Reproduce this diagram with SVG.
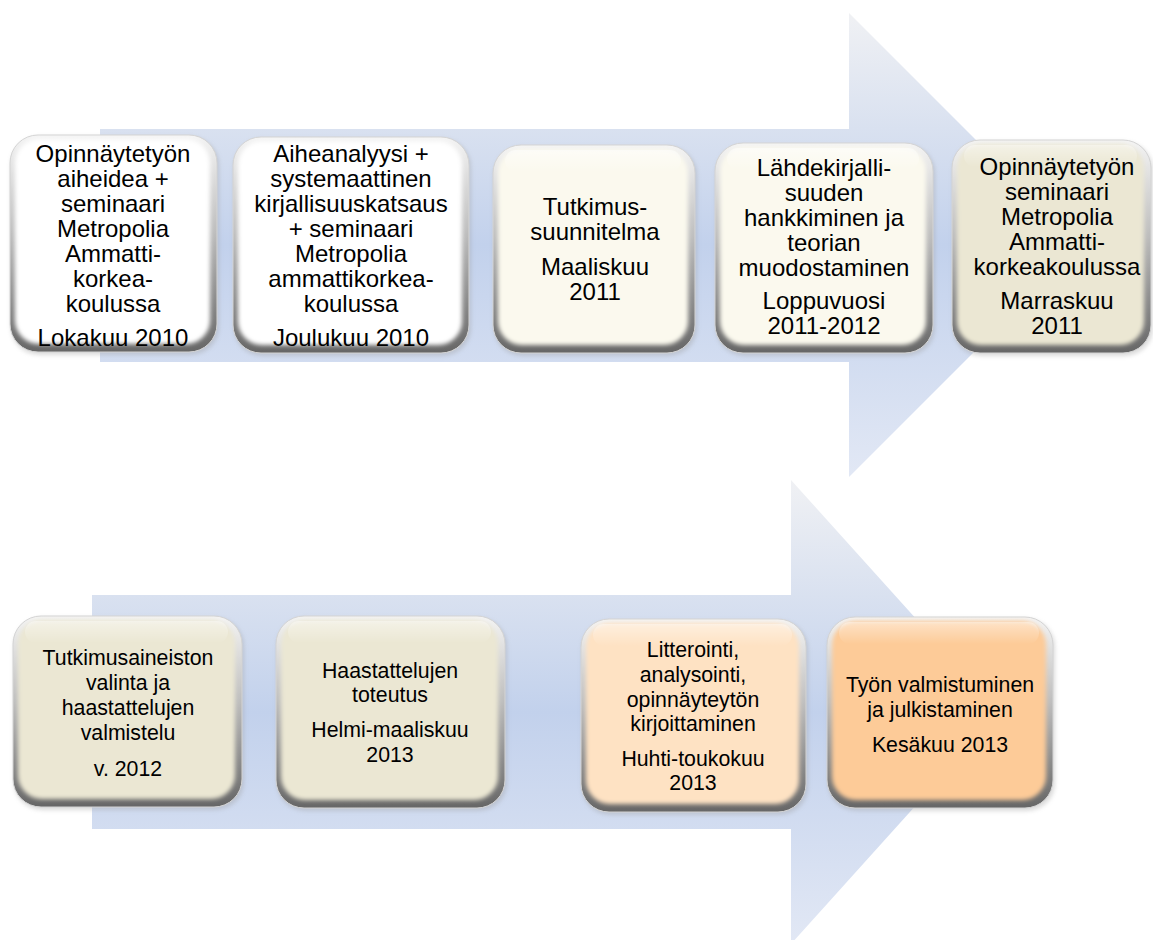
<svg xmlns="http://www.w3.org/2000/svg" width="1153" height="940" viewBox="0 0 1153 940">
<defs>
<linearGradient id="ag1" gradientUnits="userSpaceOnUse" x1="0" y1="13" x2="0" y2="477">
<stop offset="0" stop-color="#f0f1f4"/><stop offset="0.5" stop-color="#c2d1ec"/><stop offset="1" stop-color="#e2e8f5"/>
</linearGradient>
<linearGradient id="ag2" gradientUnits="userSpaceOnUse" x1="0" y1="480" x2="0" y2="944">
<stop offset="0" stop-color="#f0f1f4"/><stop offset="0.5" stop-color="#c2d1ec"/><stop offset="1" stop-color="#e2e8f5"/>
</linearGradient>
<linearGradient id="rim" x1="0" y1="0" x2="0" y2="1">
<stop offset="0" stop-color="#f4f4f4"/><stop offset="0.45" stop-color="#bdbdbd"/><stop offset="1" stop-color="#666666"/>
</linearGradient>
<linearGradient id="gloss" x1="0" y1="0" x2="0" y2="1">
<stop offset="0" stop-color="#ffffff" stop-opacity="0.9"/><stop offset="1" stop-color="#ffffff" stop-opacity="0"/>
</linearGradient>
<filter id="soft" x="-5%" y="-5%" width="110%" height="110%"><feGaussianBlur stdDeviation="2.2"/></filter>
<filter id="shadow" x="-10%" y="-10%" width="120%" height="120%"><feGaussianBlur stdDeviation="2"/></filter>
</defs>
<style>
text{font-family:"Liberation Sans",Arial,sans-serif;font-size:24px;fill:#000;text-anchor:middle}
text.s{font-size:21.3px}
.rim{fill:url(#rim);stroke:#d4d4d4;stroke-width:1}
.sh{fill:#9a9a9a;opacity:0.35;filter:url(#shadow)}
.in{filter:url(#soft)}
.gl{fill:url(#gloss)}
.white{fill:#ffffff}
.cream{fill:#fbf9ee}
.beige{fill:#ebe7d3}
.peach{fill:#fee2c3}
.orange{fill:#fdcb98}
</style>
<g id="connectors">
<polygon points="100,129 849,129 849,13 1081,245 849,477 849,362 100,362" fill="url(#ag1)"/>
<polygon points="92,595 791,595 791,480 1000,712 791,944 791,829 92,829" fill="url(#ag2)"/>
</g>
<g id="n1">
<rect class="sh" x="11" y="137" width="208" height="218" rx="28"/>
<rect class="rim" x="10" y="135" width="207" height="217" rx="28"/>
<rect class="in white" x="15" y="139" width="195" height="205" rx="24"/>
<text><tspan x="113" y="162">Opinnäytetyön</tspan><tspan x="113" y="187">aiheidea +</tspan><tspan x="113" y="212">seminaari</tspan><tspan x="113" y="237">Metropolia</tspan><tspan x="113" y="262">Ammatti-</tspan><tspan x="113" y="287">korkea-</tspan><tspan x="113" y="312">koulussa</tspan><tspan x="113" y="346">Lokakuu 2010</tspan></text>
</g>
<g id="n2">
<rect class="sh" x="234" y="139" width="237" height="217" rx="28"/>
<rect class="rim" x="233" y="137" width="236" height="216" rx="28"/>
<rect class="in white" x="238" y="141" width="224" height="204" rx="24"/>
<text><tspan x="351" y="162">Aiheanalyysi +</tspan><tspan x="351" y="187">systemaattinen</tspan><tspan x="351" y="212">kirjallisuuskatsaus</tspan><tspan x="351" y="237">+ seminaari</tspan><tspan x="351" y="262">Metropolia</tspan><tspan x="351" y="287">ammattikorkea-</tspan><tspan x="351" y="312">koulussa</tspan><tspan x="351" y="346">Joulukuu 2010</tspan></text>
</g>
<g id="n3">
<rect class="sh" x="494" y="147" width="203" height="209" rx="28"/>
<rect class="rim" x="493" y="145" width="202" height="208" rx="28"/>
<rect class="in cream" x="498" y="149" width="190" height="196" rx="24"/>
<rect class="gl" x="505" y="150" width="176" height="22" rx="11" opacity="0.6"/>
<text><tspan x="595" y="215">Tutkimus-</tspan><tspan x="595" y="240">suunnitelma</tspan><tspan x="595" y="275">Maaliskuu</tspan><tspan x="595" y="300">2011</tspan></text>
</g>
<g id="n4">
<rect class="sh" x="716" y="145" width="219" height="211" rx="28"/>
<rect class="rim" x="715" y="143" width="218" height="210" rx="28"/>
<rect class="in cream" x="720" y="147" width="206" height="198" rx="24"/>
<rect class="gl" x="727" y="148" width="192" height="22" rx="11" opacity="0.6"/>
<text><tspan x="824" y="176">Lähdekirjalli-</tspan><tspan x="824" y="201">suuden</tspan><tspan x="824" y="226">hankkiminen ja</tspan><tspan x="824" y="251">teorian</tspan><tspan x="824" y="276">muodostaminen</tspan><tspan x="824" y="309">Loppuvuosi</tspan><tspan x="824" y="334">2011-2012</tspan></text>
</g>
<g id="n5">
<rect class="sh" x="953" y="142" width="200" height="214" rx="28"/>
<rect class="rim" x="952" y="140" width="199" height="213" rx="28"/>
<rect class="in beige" x="957" y="144" width="187" height="201" rx="24"/>
<rect class="gl" x="964" y="145" width="173" height="22" rx="11" opacity="0.5"/>
<text><tspan x="1057" y="175">Opinnäytetyön</tspan><tspan x="1057" y="200">seminaari</tspan><tspan x="1057" y="225">Metropolia</tspan><tspan x="1057" y="250">Ammatti-</tspan><tspan x="1057" y="275">korkeakoulussa</tspan><tspan x="1057" y="309">Marraskuu</tspan><tspan x="1057" y="334">2011</tspan></text>
</g>
<g id="n6">
<rect class="sh" x="14" y="618" width="230" height="192" rx="28"/>
<rect class="rim" x="13" y="616" width="229" height="191" rx="28"/>
<rect class="in beige" x="18" y="620" width="217" height="179" rx="24"/>
<rect class="gl" x="25" y="621" width="203" height="22" rx="11" opacity="0.5"/>
<text class="s"><tspan x="128" y="665">Tutkimusaineiston</tspan><tspan x="128" y="690">valinta ja</tspan><tspan x="128" y="715">haastattelujen</tspan><tspan x="128" y="740">valmistelu</tspan><tspan x="128" y="776">v. 2012</tspan></text>
</g>
<g id="n7">
<rect class="sh" x="277" y="618" width="230" height="193" rx="28"/>
<rect class="rim" x="276" y="616" width="229" height="192" rx="28"/>
<rect class="in beige" x="281" y="620" width="217" height="180" rx="24"/>
<rect class="gl" x="288" y="621" width="203" height="22" rx="11" opacity="0.5"/>
<text class="s"><tspan x="390" y="678">Haastattelujen</tspan><tspan x="390" y="702">toteutus</tspan><tspan x="390" y="737">Helmi-maaliskuu</tspan><tspan x="390" y="762">2013</tspan></text>
</g>
<g id="n8">
<rect class="sh" x="582" y="621" width="226" height="194" rx="28"/>
<rect class="rim" x="581" y="619" width="225" height="193" rx="28"/>
<rect class="in peach" x="586" y="623" width="213" height="181" rx="24"/>
<rect class="gl" x="593" y="624" width="199" height="22" rx="11" opacity="0.5"/>
<text class="s"><tspan x="693" y="657">Litterointi,</tspan><tspan x="693" y="682">analysointi,</tspan><tspan x="693" y="707">opinnäyteytön</tspan><tspan x="693" y="731">kirjoittaminen</tspan><tspan x="693" y="766">Huhti-toukokuu</tspan><tspan x="693" y="790">2013</tspan></text>
</g>
<g id="n9">
<rect class="sh" x="828" y="619" width="227" height="192" rx="28"/>
<rect class="rim" x="827" y="617" width="226" height="191" rx="28"/>
<rect class="in orange" x="832" y="621" width="214" height="179" rx="24"/>
<rect class="gl" x="839" y="622" width="200" height="22" rx="11" opacity="0.5"/>
<text class="s"><tspan x="940" y="692">Työn valmistuminen</tspan><tspan x="940" y="717">ja julkistaminen</tspan><tspan x="940" y="752">Kesäkuu 2013</tspan></text>
</g>
</svg>
